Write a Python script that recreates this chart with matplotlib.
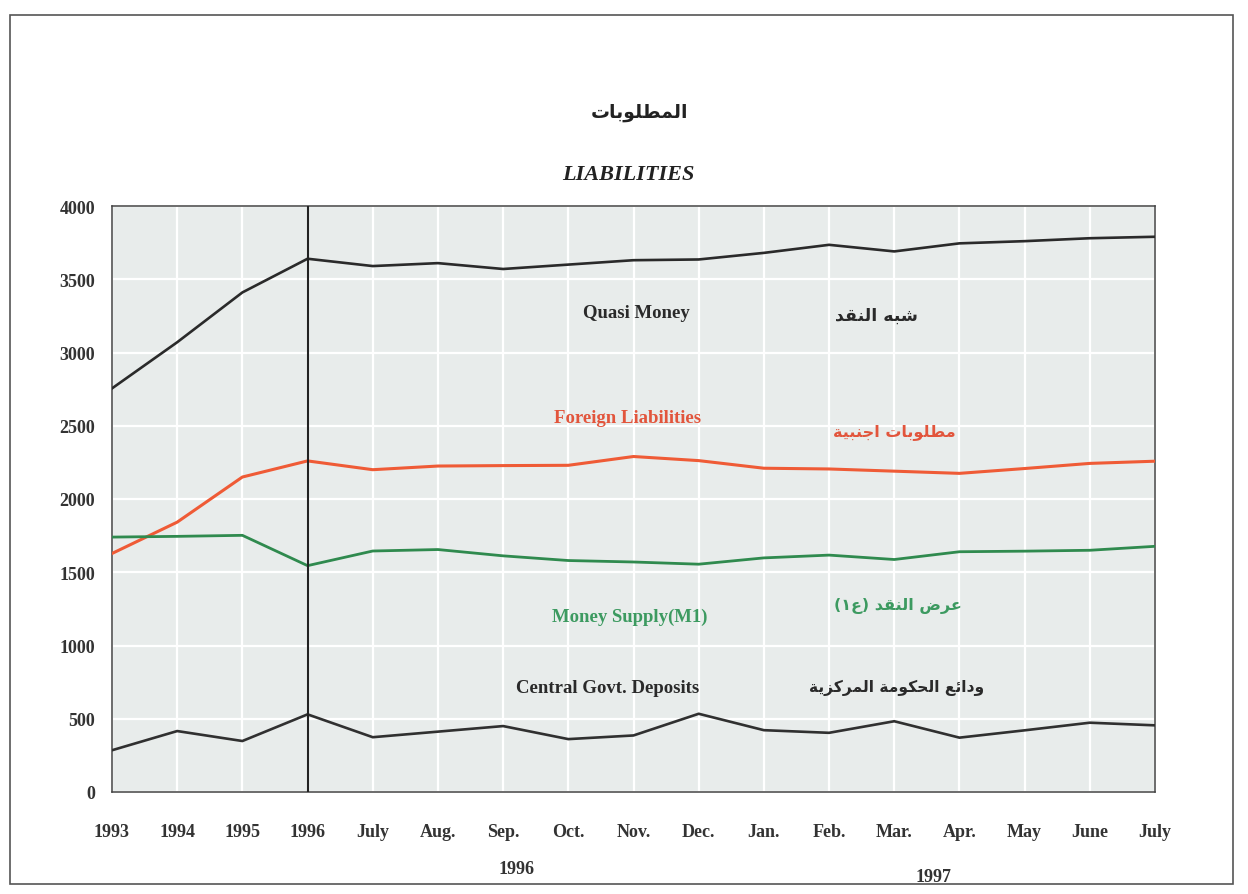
import matplotlib
matplotlib.use("Agg")
import matplotlib.pyplot as plt
import matplotlib.transforms as mtransforms
from matplotlib.patches import Rectangle

# values
periods = ["1993", "1994", "1995", "1996", "July", "Aug.", "Sep.", "Oct.", "Nov.",
           "Dec.", "Jan.", "Feb.", "Mar.", "Apr.", "May", "June", "July"]
quasi_money = [2755, 3070, 3410, 3640, 3590, 3610, 3570, 3600, 3630, 3635,
               3680, 3735, 3690, 3745, 3760, 3780, 3790]
foreign_liab = [1628, 1842, 2150, 2260, 2200, 2225, 2228, 2230, 2290, 2262,
                2210, 2205, 2190, 2175, 2208, 2243, 2258]
money_supply = [1740, 1745, 1752, 1545, 1645, 1655, 1612, 1580, 1570, 1555,
                1598, 1617, 1587, 1640, 1644, 1650, 1677]
govt_deposits = [285, 416, 348, 530, 374, 412, 450, 361, 386, 534,
                 422, 404, 483, 371, 421, 473, 455]
yticks = [0, 500, 1000, 1500, 2000, 2500, 3000, 3500, 4000]

# matplotlib does no arabic shaping, so pick presentation forms by hand
ar_forms = {
    'ا': (0xFE8D, 0xFE8E),
    'ب': (0xFE8F, 0xFE90, 0xFE91, 0xFE92),
    'ة': (0xFE93, 0xFE94),
    'ت': (0xFE95, 0xFE96, 0xFE97, 0xFE98),
    'ج': (0xFE9D, 0xFE9E, 0xFE9F, 0xFEA0),
    'ح': (0xFEA1, 0xFEA2, 0xFEA3, 0xFEA4),
    'د': (0xFEA9, 0xFEAA),
    'ر': (0xFEAD, 0xFEAE),
    'ز': (0xFEAF, 0xFEB0),
    'ش': (0xFEB5, 0xFEB6, 0xFEB7, 0xFEB8),
    'ض': (0xFEBD, 0xFEBE, 0xFEBF, 0xFEC0),
    'ط': (0xFEC1, 0xFEC2, 0xFEC3, 0xFEC4),
    'ع': (0xFEC9, 0xFECA, 0xFECB, 0xFECC),
    'ق': (0xFED5, 0xFED6, 0xFED7, 0xFED8),
    'ك': (0xFED9, 0xFEDA, 0xFEDB, 0xFEDC),
    'ل': (0xFEDD, 0xFEDE, 0xFEDF, 0xFEE0),
    'م': (0xFEE1, 0xFEE2, 0xFEE3, 0xFEE4),
    'ن': (0xFEE5, 0xFEE6, 0xFEE7, 0xFEE8),
    'ه': (0xFEE9, 0xFEEA, 0xFEEB, 0xFEEC),
    'و': (0xFEED, 0xFEEE),
    'ي': (0xFEF1, 0xFEF2, 0xFEF3, 0xFEF4),
    'ئ': (0xFE89, 0xFE8A, 0xFE8B, 0xFE8C),
}


def shape(text):
    out = []
    for i, ch in enumerate(text):
        f = ar_forms.get(ch)
        if f is None:
            out.append(ch)
            continue
        prev = text[i - 1] if i > 0 else ''
        nxt = text[i + 1] if i + 1 < len(text) else ''
        join_prev = prev in ar_forms and len(ar_forms[prev]) == 4
        join_next = len(f) == 4 and nxt in ar_forms
        if join_prev and join_next:
            c = f[3]
        elif join_prev:
            c = f[1]
        elif join_next:
            c = f[2]
        else:
            c = f[0]
        out.append(chr(c))
    vis = ''.join(out)[::-1]
    return vis.translate(str.maketrans('()', ')('))


serif = "Liberation Serif"
arab = ["DejaVu Sans"]

fig = plt.figure(figsize=(12.48, 8.95), dpi=100)
ax = fig.add_axes([112 / 1248, 1 - 793 / 895, 1043 / 1248, 586 / 895])
ax.set_facecolor("#e8eceb")

x = list(range(len(periods)))
ax.plot(x, quasi_money, color="#2a2a2a", lw=1.9, zorder=3)
ax.plot(x, foreign_liab, color="#ef5b36", lw=2.2, zorder=3)
ax.plot(x, money_supply, color="#2f8a4e", lw=2.0, zorder=3)
ax.plot(x, govt_deposits, color="#303030", lw=1.9, zorder=3)
ax.axvline(3, color="#222222", lw=1.5, zorder=4)

ax.set_xlim(0, len(periods) - 1)
ax.set_ylim(0, 4000)
ax.set_xticks(x)
ax.set_xticklabels(periods)
ax.set_yticks(yticks)
ax.grid(True, color="white", lw=1.6, zorder=1)
ax.set_axisbelow(True)
ax.tick_params(axis="both", length=0)
ax.tick_params(axis="y", pad=12)
ax.tick_params(axis="x", pad=22)
for lab in ax.get_xticklabels() + ax.get_yticklabels():
    lab.set_fontfamily(serif)
    lab.set_fontweight("bold")
    lab.set_fontsize(13)
    lab.set_color("#333333")
for sp in ax.spines.values():
    sp.set_color("#444444")
    sp.set_linewidth(1.1)

# series labels, english and arabic
ax.text(8.04, 3272, "Quasi Money", family=serif, weight="bold", fontsize=13.5,
        color="#2a2a2a", ha="center", va="center")
ax.text(11.73, 3257, shape("شبه النقد"), family=arab, weight="bold", fontsize=12.5,
        color="#2a2a2a", ha="center", va="center")
ax.text(7.91, 2555, "Foreign Liabilities", family=serif, weight="bold", fontsize=13.5,
        color="#e2553c", ha="center", va="center")
ax.text(12.0, 2461, shape("مطلوبات اجنبية"), family=arab, weight="bold", fontsize=11.5,
        color="#e2553c", ha="center", va="center")
ax.text(7.94, 1197, "Money Supply(M1)", family=serif, weight="bold", fontsize=13.5,
        color="#3c9a60", ha="center", va="center")
ax.text(12.06, 1274, shape("عرض النقد (ع١)"), family=arab, weight="bold", fontsize=11.5,
        color="#3c9a60", ha="center", va="center")
ax.text(7.61, 716, "Central Govt. Deposits", family=serif, weight="bold", fontsize=13.5,
        color="#2a2a2a", ha="center", va="center")
ax.text(12.04, 714, shape("ودائع الحكومة المركزية"), family=arab, weight="bold",
        fontsize=11.2, color="#2a2a2a", ha="center", va="center")

# year captions under the month labels
trans = mtransforms.blended_transform_factory(ax.transData, fig.transFigure)
ax.text(6.2, 1 - 870 / 895, "1996", transform=trans, family=serif, weight="bold",
        fontsize=13, color="#333333", ha="center", va="center")
ax.text(12.6, 1 - 878 / 895, "1997", transform=trans, family=serif, weight="bold",
        fontsize=13, color="#333333", ha="center", va="center")

# titles
fig.text(640 / 1248, 1 - 112 / 895, shape("المطلوبات"), family=arab, weight="bold",
         fontsize=13.5, color="#222222", ha="center", va="center")
fig.text(628 / 1248, 1 - 175 / 895, "LIABILITIES", family=serif, weight="bold",
         style="italic", fontsize=16, color="#222222", ha="center", va="center")

# page frame of the scan
fig.patches.append(Rectangle((10 / 1248, 1 - 885 / 895), 1223 / 1248, 869 / 895,
                             transform=fig.transFigure, fill=False,
                             edgecolor="#555555", lw=1.2))

fig.savefig("out.png", dpi=100)
